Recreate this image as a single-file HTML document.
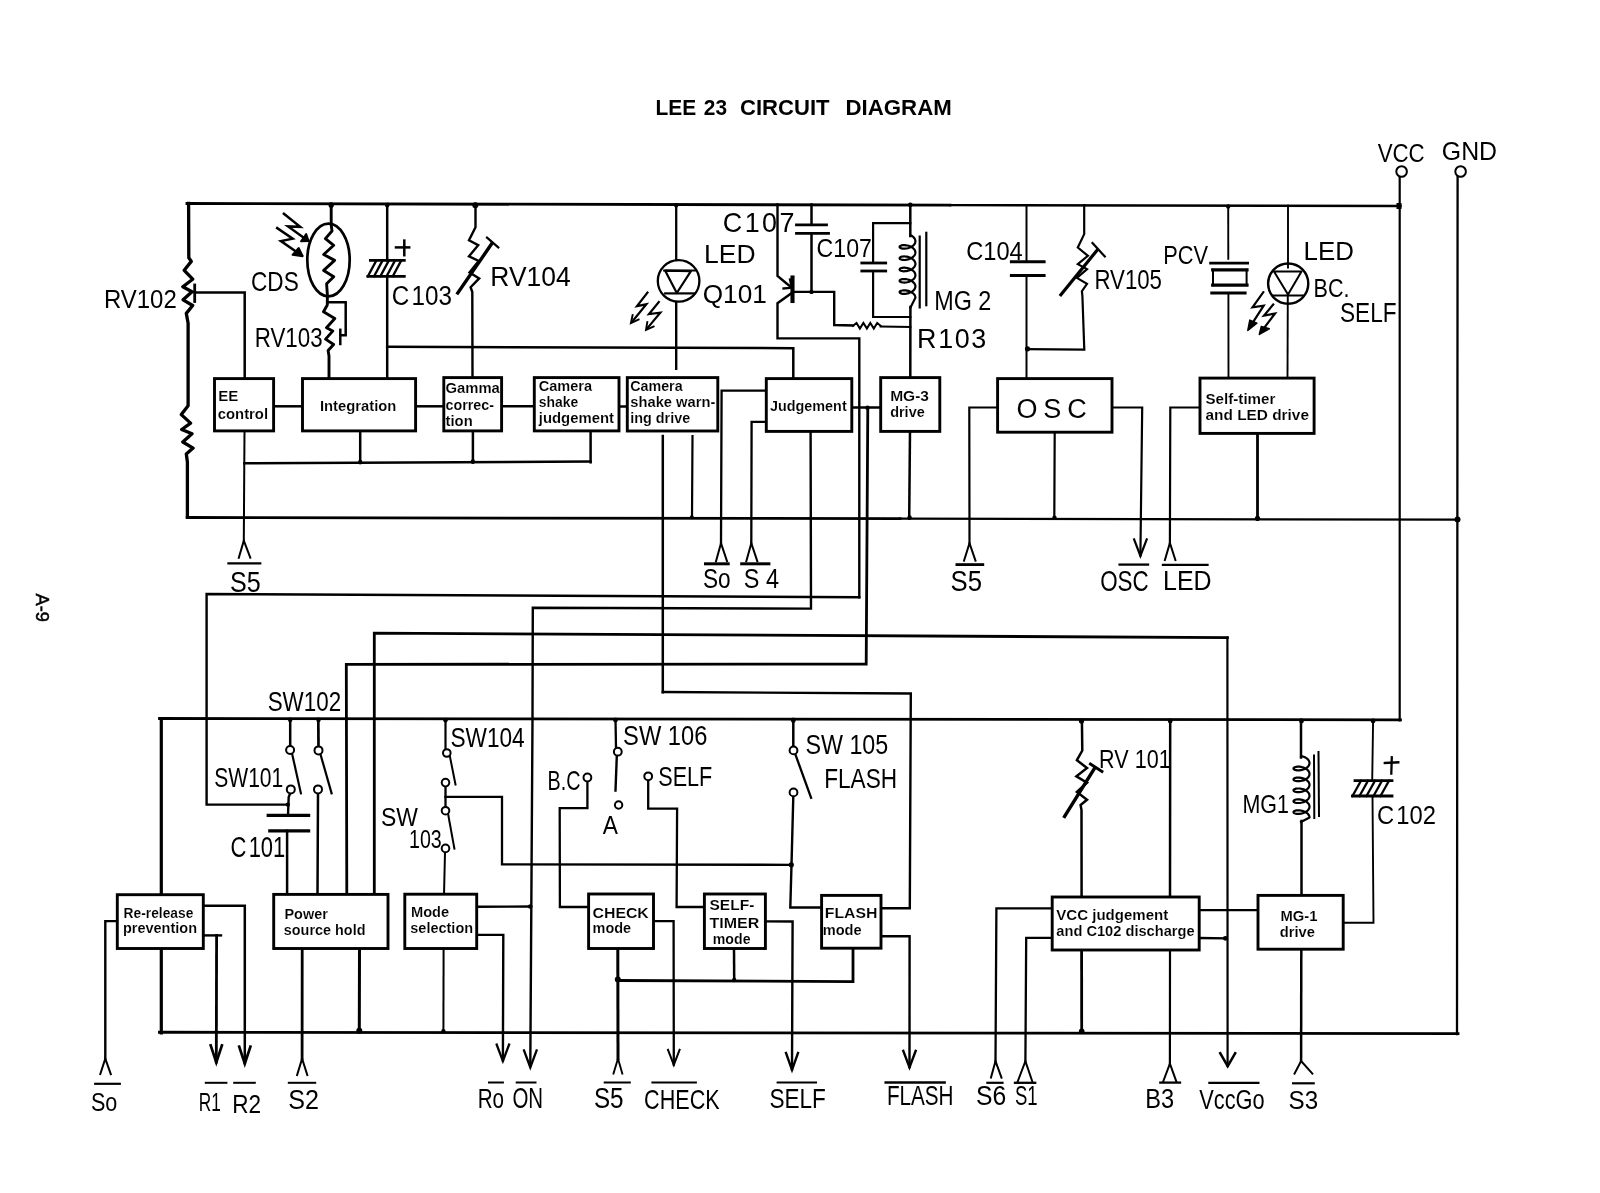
<!DOCTYPE html>
<html lang="en">
<head>
<meta charset="utf-8">
<title>LEE 23 CIRCUIT DIAGRAM</title>
<style>
html,body{margin:0;padding:0;background:#fff;}
body{width:1600px;height:1193px;overflow:hidden;}
svg{display:block;will-change:transform;}
.w{fill:none;stroke:#000;stroke-linecap:square;stroke-linejoin:miter;}
text{fill:#000;font-family:"Liberation Sans",sans-serif;}
.t{font-weight:bold;}
.b{font-weight:bold;stroke:#fff;stroke-width:.12px;}
.h{font-weight:normal;}
.p{font-weight:normal;stroke:#000;stroke-width:.5px;}
</style>
</head>
<body>
<svg width="1600" height="1193" viewBox="0 0 1600 1193">
<rect width="1600" height="1193" fill="#fff"/>
<text class="t" x="655.5" y="115" font-size="21.8" textLength="40.7" lengthAdjust="spacingAndGlyphs">LEE</text>
<text class="t" x="703.8" y="115" font-size="21.8" textLength="23.2" lengthAdjust="spacingAndGlyphs">23</text>
<text class="t" x="740" y="115" font-size="21.8" textLength="89.5" lengthAdjust="spacingAndGlyphs">CIRCUIT</text>
<text class="t" x="845.5" y="115" font-size="21.8" textLength="106.3" lengthAdjust="spacingAndGlyphs">DIAGRAM</text>
<text class="p" transform="translate(35.5 593.5) rotate(90)" font-size="18.5" textLength="28.5" lengthAdjust="spacingAndGlyphs">A-9</text>
<g class="w">
<path d="M187 203.5 L950 205.1" stroke-width="2.9"/>
<path d="M950 205.1 L1400.5 206" stroke-width="2.4"/>
<path d="M188.6 203.5 L188.8 257.8 L191.3 261.4 L184.2 270.3 L192.7 279.2 L182.8 286.7 L192 291.7 L183.1 299.8 L192.7 305.5 L186.3 313.4 L188.1 323.3 L188.1 405.7 L181.3 414.6 L190.6 423.1 L181.7 429.5 L192 433.8 L182.8 442 L193.1 448.1 L186.3 454.1 L187.4 462 L187.4 516.8" stroke-width="3.3" stroke-linejoin="round"/>
<path d="M187.2 517.5 L900 518.7" stroke-width="2.8"/>
<path d="M900 518.7 L1458 519.6" stroke-width="2.3"/>
<circle cx="1457.5" cy="519.6" r="3" fill="#000" stroke="none"/>
<path d="M1399.7 176.5 L1399.7 720.5" stroke-width="2.2"/>
<path d="M1457.6 176.5 L1457 1034.2" stroke-width="2.3"/>
<circle cx="1401.6" cy="171.5" r="5.3" fill="#fff" stroke-width="2"/>
<circle cx="1460.6" cy="171.5" r="5.3" fill="#fff" stroke-width="2"/>
<rect x="1396.5" y="203" width="5" height="6" fill="#000" stroke="none"/>
<path d="M194.7 285 L194.7 301.5" stroke-width="2.8"/>
<path d="M194.6 292.4 L244.7 292.4 L244.7 379" stroke-width="2.5"/>
<path d="M331.2 204 L331.2 225 L332 231 L325.4 238.6 L333.7 245.3 L323.7 254.5 L334.6 260.4 L323.7 270.4 L333.7 276.7 L326.6 283.8 L327.4 295 L327.3 305 L323.5 311.8 L334.8 318.5 L326.5 327.7 L332.7 331.1 L325.6 339.1 L333.6 344.5 L328.1 350.4 L329 356 L329 379" stroke-width="2.9" stroke-linejoin="round"/>
<ellipse cx="328.5" cy="260" rx="21.2" ry="36.4" fill="none" stroke-width="2.7"/>
<path d="M327.3 302.2 L345.7 302.2 L345.7 335.3 L341 335.3" stroke-width="2.5"/>
<path d="M340.3 329.8 L340.3 344" stroke-width="2.5"/>
<path d="M283.9 213.8 L300.2 226.8 L288.1 226.4 L308 240.7" stroke-width="2.5"/>
<path d="M301 241.3 L308.6 241.1 L306.2 234Z" stroke-width="1.9" fill="#000" stroke-linejoin="round"/>
<path d="M277.2 228.1 L292.7 238.6 L280.9 241.1 L301.8 255.5" stroke-width="2.5"/>
<path d="M292.5 254.8 L302.7 256.2 L298.7 248Z" stroke-width="1.9" fill="#000" stroke-linejoin="round"/>
<circle cx="331.2" cy="205.2" r="2.6" fill="#000" stroke="none"/>
<circle cx="387.2" cy="205.3" r="2.2" fill="#000" stroke="none"/>
<path d="M387.2 204 L387.2 260.4" stroke-width="2.5"/>
<path d="M370.4 260.4 L404.3 260.4" stroke-width="2.8"/>
<path d="M367.9 276.3 L404.3 276.3" stroke-width="2.8"/>
<path d="M376.4 260.4 L367.9 276.3" stroke-width="2.3"/>
<path d="M382.6 260.4 L374.1 276.3" stroke-width="2.3"/>
<path d="M388.9 260.4 L380.4 276.3" stroke-width="2.3"/>
<path d="M395.1 260.4 L386.6 276.3" stroke-width="2.3"/>
<path d="M401.3 260.4 L392.8 276.3" stroke-width="2.3"/>
<path d="M387.2 276.3 L387.2 379" stroke-width="2.5"/>
<path d="M387.2 346.7 L793.3 348.2 L793.3 379" stroke-width="2.5"/>
<path d="M396 247.4 L409.2 247.4" stroke-width="2.5"/>
<path d="M404.3 240.6 L404.3 255.2" stroke-width="2.5"/>
<circle cx="475.3" cy="205.3" r="3" fill="#000" stroke="none"/>
<path d="M475.5 204 L475.5 227.3 L469 240.2 L478.2 245.2 L469 256.3 L478.7 260.9 L469.5 272.4 L479.2 278.4 L470.6 287.2 L472.3 292 L472.5 378" stroke-width="2.4"/>
<path d="M457.8 293 L491.4 244.2" stroke-width="3.4"/>
<path d="M487 237.6 L498.3 247.4" stroke-width="2.2"/>
<circle cx="676.2" cy="205.2" r="2.2" fill="#000" stroke="none"/>
<path d="M676.2 204.5 L676.2 260" stroke-width="2.3"/>
<circle cx="678.6" cy="280.9" r="20.8" fill="none" stroke-width="2.3"/>
<path d="M665.2 270.7 L690.9 271.1 L676.8 293Z" stroke-width="2.2" fill="none" stroke-linejoin="round"/>
<path d="M664.2 270.5 L695.4 270.5" stroke-width="2.2"/>
<path d="M665.2 293.4 L694.3 293.4" stroke-width="2.2"/>
<path d="M676.2 302 L676.2 368.8" stroke-width="2.4"/>
<path d="M647.5 292.6 L637 306.2 L646.4 304.3 L632.4 321.4" stroke-width="2.2"/>
<path d="M632.6 315 L630.9 323.2 L638.6 319.6" stroke-width="1.9"/>
<path d="M658.8 302 L649 314.1 L660.3 312.6 L647.5 328" stroke-width="2.2"/>
<path d="M647.3 322 L646 329.9 L653.6 326.5" stroke-width="1.9"/>
<path d="M777.5 204.5 L777.5 276 L792.3 288.2" stroke-width="2.4"/>
<path d="M792.5 277.5 L792.5 301" stroke-width="4.1"/>
<path d="M792.5 292.5 L777.5 303.2 L777.5 338.2 L859.3 338.4 L859.3 597.2" stroke-width="2.4"/>
<path d="M783.5 288.5 L791.8 287.8 L790 279.5" stroke-width="2.3"/>
<path d="M792.5 291.9 L834.2 291.9 L834.2 325 L853 325.5" stroke-width="2.4"/>
<path d="M853 325.8 L856.5 323 L859.9 328.6 L863.4 323 L866.9 328.6 L870.3 323 L873.8 328.6 L877.2 323 L880.7 325.8" stroke-width="2"/>
<path d="M880.7 326.5 L910.3 327" stroke-width="2.2"/>
<circle cx="811.5" cy="291.9" r="2.2" fill="#000" stroke="none"/>
<path d="M811.5 204.5 L811.5 224.8" stroke-width="2.5"/>
<path d="M796.5 224.8 L826.5 224.8" stroke-width="2.8"/>
<path d="M796.5 233.3 L828.5 233.3" stroke-width="2.8"/>
<path d="M811.5 233.3 L811.5 291.9" stroke-width="2.5"/>
<circle cx="910.3" cy="204.8" r="2.4" fill="#000" stroke="none"/>
<path d="M910.3 204.5 L910.3 236" stroke-width="2.5"/>
<path d="M910.5 236 L910.5 235.2 L911.6 235.8 L912.7 236.5 L913.6 237.3 L914.3 238.2 L914.9 239.1 L915.2 240 L915.4 241 L915.3 242 L915.1 242.9 L914.6 243.9 L914 244.8 L913.1 245.6 L912.2 246.3 L911.1 247 L909.9 247.5 L908.6 248 L907.4 248.3 L906.1 248.5 L904.8 248.6 L903.7 248.7 L902.6 248.6 L901.7 248.4 L900.9 248.1 L900.3 247.8 L899.8 247.5 L899.6 247.1 L899.6 246.7 L899.8 246.3 L900.2 246 L900.8 245.7 L901.6 245.4 L902.5 245.2 L903.6 245.1 L904.8 245.1 L906 245.3 L907.3 245.5 L908.6 245.8 L909.8 246.3 L911 246.8 L912.1 247.4 L913.1 248.2 L913.9 249 L914.6 249.9 L915.1 250.8 L915.3 251.8 L915.4 252.7 L915.2 253.7 L914.9 254.7 L914.3 255.6 L913.6 256.4 L912.7 257.2 L911.7 257.9 L910.6 258.5 L909.3 259 L908.1 259.4 L906.8 259.7 L905.5 259.9 L904.3 260 L903.2 259.9 L902.2 259.8 L901.3 259.6 L900.6 259.3 L900 259 L899.7 258.6 L899.6 258.2 L899.7 257.8 L900 257.5 L900.5 257.1 L901.2 256.8 L902 256.6 L903 256.5 L904.1 256.4 L905.3 256.5 L906.6 256.6 L907.9 256.9 L909.1 257.3 L910.4 257.8 L911.5 258.4 L912.6 259.1 L913.5 259.8 L914.3 260.7 L914.8 261.6 L915.2 262.5 L915.4 263.5 L915.4 264.5 L915.1 265.5 L914.7 266.4 L914 267.3 L913.2 268.1 L912.3 268.9 L911.2 269.5 L910 270.1 L908.8 270.5 L907.5 270.9 L906.2 271.1 L905 271.2 L903.8 271.3 L902.7 271.2 L901.7 271 L900.9 270.8 L900.3 270.5 L899.9 270.1 L899.6 269.7 L899.6 269.4 L899.8 269 L900.2 268.6 L900.8 268.3 L901.5 268 L902.4 267.8 L903.5 267.7 L904.7 267.7 L905.9 267.8 L907.2 268.1 L908.4 268.4 L909.7 268.8 L910.9 269.3 L912 270 L913 270.7 L913.9 271.5 L914.5 272.4 L915 273.3 L915.3 274.3 L915.4 275.2 L915.3 276.2 L914.9 277.2 L914.4 278.1 L913.7 279 L912.8 279.7 L911.8 280.5 L910.7 281.1 L909.5 281.6 L908.2 282 L906.9 282.3 L905.6 282.5 L904.4 282.6 L903.3 282.5 L902.2 282.4 L901.4 282.2 L900.6 281.9 L900.1 281.6 L899.7 281.3 L899.6 280.9 L899.7 280.5 L899.9 280.1 L900.4 279.8 L901.1 279.5 L901.9 279.2 L902.9 279.1 L904 279 L905.2 279.1 L906.5 279.2 L907.7 279.5 L909 279.9 L910.3 280.3 L911.4 280.9 L912.5 281.6 L913.4 282.4 L914.2 283.2 L914.8 284.1 L915.2 285 L915.4 286 L915.4 287 L915.1 288 L914.7 288.9 L914.1 289.8 L913.3 290.6 L912.4 291.4 L911.3 292 L910.1 292.6 L908.9 293.1 L907.6 293.4 L906.3 293.7 L905.1 293.8 L903.9 293.9 L902.8 293.8 L901.8 293.6 L901 293.4 L900.4 293.1 L899.9 292.8 L899.7 292.4 L899.6 292 L899.8 291.6 L900.1 291.2 L900.7 290.9 L901.4 290.7 L902.3 290.5 L903.4 290.4 L904.5 290.3 L905.8 290.4 L907 290.6 L908.3 290.9 L909.6 291.4 L910.8 291.9 L911.9 292.5 L912.9 293.2 L913.8 294 L914.5 294.9 L915 295.8 L915.3 296.8 L915.4 297.8 L910.5 307.4" stroke-width="2.2" stroke-linejoin="round"/>
<path d="M910.4 307 L910.3 378" stroke-width="2.5"/>
<path d="M919.7 236.6 L919.7 307.4" stroke-width="2.2"/>
<path d="M926.3 232.8 L926.3 305.2" stroke-width="2.2"/>
<path d="M910.3 223.2 L873.1 223.2 L873.1 263" stroke-width="2.2"/>
<path d="M861.8 263 L885.7 263" stroke-width="2.8"/>
<path d="M861.8 271 L885.7 271" stroke-width="2.8"/>
<path d="M873.1 271 L873.1 317 L910.3 317" stroke-width="2.2"/>
<path d="M1026.5 205 L1026.5 261.7" stroke-width="2"/>
<path d="M1011.4 261.7 L1044.1 261.7" stroke-width="3"/>
<path d="M1011.4 275.5 L1044.1 275.5" stroke-width="3"/>
<path d="M1026.5 275.5 L1026.5 379" stroke-width="2"/>
<circle cx="1027.5" cy="348.8" r="2.6" fill="#000" stroke="none"/>
<path d="M1084.2 205 L1084.2 234.1 L1077.8 247.5 L1087.9 255.8 L1077.8 264.1 L1087 269.1 L1076.9 277.9 L1087 283.9 L1081.9 291.2 L1082.4 296 L1084.3 349.7 L1026.5 349.2" stroke-width="2.2"/>
<path d="M1060.9 294.7 L1096.9 250.4" stroke-width="3.2"/>
<path d="M1092.5 243.1 L1104.8 256.5" stroke-width="2.2"/>
<circle cx="1228.2" cy="206.6" r="2.2" fill="#000" stroke="none"/>
<path d="M1228.2 205.5 L1228.3 258.8" stroke-width="1.9"/>
<path d="M1210.6 263.1 L1247.6 263.1" stroke-width="2.8"/>
<path d="M1212.7 269.8 L1247 269.8" stroke-width="3.2"/>
<path d="M1212.7 285.2 L1247 285.2" stroke-width="3.2"/>
<path d="M1213 269.8 L1213 285.2" stroke-width="2"/>
<path d="M1246.6 269.8 L1246.6 285.2" stroke-width="2"/>
<path d="M1211.7 293 L1245.2 293" stroke-width="2.8"/>
<path d="M1228.4 294 L1228.5 378" stroke-width="1.9"/>
<path d="M1288 205.8 L1288 267.5" stroke-width="1.9"/>
<circle cx="1288.2" cy="283.6" r="20.1" fill="none" stroke-width="2.4"/>
<path d="M1274 271.5 L1301.5 271.6 L1288 294.6Z" stroke-width="2" fill="none" stroke-linejoin="round"/>
<path d="M1273.2 295.4 L1303.5 295.4" stroke-width="2"/>
<path d="M1287.8 295 L1287.5 378" stroke-width="1.9"/>
<path d="M1263.3 292.2 L1252.5 307.3 L1263.7 305.7 L1249.3 328" stroke-width="2.2"/>
<path d="M1249.8 320.1 L1247.8 330.4 L1256.9 323.2Z" stroke-width="1.5" fill="#000" stroke-linejoin="round"/>
<path d="M1273.2 304.5 L1264 315.5 L1275 313.5 L1260.8 332.4" stroke-width="2.2"/>
<path d="M1261.3 326.4 L1259.3 334.4 L1269.3 328.8Z" stroke-width="1.5" fill="#000" stroke-linejoin="round"/>
<path d="M273.6 406.3 L302.5 406.3" stroke-width="2.5"/>
<path d="M415.6 406.3 L443.8 406.3" stroke-width="2.5"/>
<path d="M501.6 406.3 L534.3 406.3" stroke-width="2.5"/>
<path d="M619 406.5 L627.3 406.5" stroke-width="2.5"/>
<path d="M851.8 407.5 L880.7 407.5" stroke-width="2.5"/>
<circle cx="867.5" cy="407.8" r="2.2" fill="#000" stroke="none"/>
<path d="M766.3 390.7 L721.6 390.7 L721 543.2" stroke-width="2.3"/>
<path d="M766.3 421.9 L751.6 421.9 L751.3 543.2" stroke-width="2.3"/>
<path d="M716 561.2 L721 543.2 L727 561.2" stroke-width="2"/>
<path d="M746.3 561.2 L751.3 543.2 L757.3 561.2" stroke-width="2"/>
<path d="M705.5 563.8 L728.2 563.8" stroke-width="3"/>
<path d="M741.7 563.8 L768.9 563.8" stroke-width="3"/>
<path d="M244.3 463.3 L590.6 461.6" stroke-width="2.5"/>
<path d="M360.2 431 L360.2 463" stroke-width="2.5"/>
<circle cx="360.2" cy="462" r="2.2" fill="#000" stroke="none"/>
<path d="M472.9 431 L472.9 462.5" stroke-width="2.5"/>
<circle cx="472.9" cy="461.5" r="2.2" fill="#000" stroke="none"/>
<path d="M590.6 431 L590.6 462.3" stroke-width="2.5"/>
<path d="M244.5 431 L243.8 540.7" stroke-width="2"/>
<path d="M238.8 557.7 L243.8 540.7 L250.3 557.7" stroke-width="2"/>
<path d="M228.5 563.3 L260.2 563.3" stroke-width="2.3"/>
<path d="M662.8 436 L662.8 692.2" stroke-width="2.5"/>
<path d="M692.5 436 L692 518" stroke-width="2.2"/>
<circle cx="691.8" cy="517.3" r="2" fill="#000" stroke="none"/>
<path d="M810.6 431.4 L811 608.6 L532.8 607.8 L532.5 720 L530.3 1066" stroke-width="2.4"/>
<path d="M910 431.4 L909.2 518.8" stroke-width="2.5"/>
<circle cx="909.6" cy="517.5" r="2.2" fill="#000" stroke="none"/>
<path d="M867.8 407.5 L866.2 664 L346.3 664.4 L346.8 895" stroke-width="2.8"/>
<path d="M997.6 407.5 L969.3 407.5 L969.5 543.2" stroke-width="2.2"/>
<path d="M964 560.7 L969.5 543.2 L975.5 560.7" stroke-width="2"/>
<path d="M956.9 564.6 L982.8 564.6" stroke-width="2.8"/>
<path d="M1054.7 432.2 L1054.3 519" stroke-width="2.2"/>
<circle cx="1054.5" cy="517.8" r="2.2" fill="#000" stroke="none"/>
<path d="M1112 407.5 L1142.2 407.5 L1140.4 555.5" stroke-width="2.2"/>
<path d="M1134.1 539.3 L1140.4 555.8 L1146.7 539.3" stroke-width="2.2"/>
<path d="M1200 407.5 L1170.3 407.5 L1169.9 543" stroke-width="2.2"/>
<path d="M1164.9 560 L1169.9 543 L1175.4 560" stroke-width="2"/>
<path d="M1257.5 433.4 L1257.5 519.6" stroke-width="2.8"/>
<circle cx="1257.5" cy="518.3" r="2.6" fill="#000" stroke="none"/>
<path d="M1119.6 564.6 L1148 564.6" stroke-width="2.3"/>
<path d="M1163 564.9 L1207.5 564.9" stroke-width="2.3"/>
<path d="M859.3 597.2 L206.6 594 L206.6 804.6 L287.6 804.6" stroke-width="2.4"/>
<path d="M374.3 895 L374.3 633.2 L1227.4 637.6" stroke-width="2.8"/>
<path d="M1227.4 637.6 L1227.6 1066" stroke-width="2.2"/>
<path d="M662.8 692 L910.8 693.5 L909.8 908.2 L881 908.2" stroke-width="2.4"/>
</g>
<g class="w">
<rect x="214.5" y="378.6" width="59.1" height="52.3" fill="#fff" stroke-width="2.9"/>
<rect x="302.5" y="378.6" width="113.1" height="52.3" fill="#fff" stroke-width="2.9"/>
<rect x="443.8" y="377.6" width="57.8" height="53.3" fill="#fff" stroke-width="2.9"/>
<rect x="534.3" y="377.6" width="84.7" height="53.3" fill="#fff" stroke-width="2.9"/>
<rect x="627.3" y="377.6" width="90.5" height="53.4" fill="#fff" stroke-width="2.9"/>
<rect x="766.3" y="378.6" width="85.5" height="52.8" fill="#fff" stroke-width="2.9"/>
<rect x="880.7" y="377.6" width="59.1" height="53.8" fill="#fff" stroke-width="2.9"/>
<rect x="997.6" y="378.6" width="114.4" height="53.6" fill="#fff" stroke-width="2.9"/>
<rect x="1200" y="378.1" width="114.1" height="55.3" fill="#fff" stroke-width="2.9"/>
</g>
<g class="w">
<path d="M159.5 718.5 L1400.5 719.8" stroke-width="2.8"/>
<path d="M161.3 718.5 L161.3 1033" stroke-width="3.2"/>
<path d="M159.5 1032.3 L1458 1033.6" stroke-width="2.9"/>
<circle cx="290.2" cy="720" r="2.2" fill="#000" stroke="none"/>
<circle cx="318.5" cy="720" r="2.2" fill="#000" stroke="none"/>
<path d="M290.2 719 L290.2 746" stroke-width="2.5"/>
<path d="M318.3 719 L318.5 746.5" stroke-width="2.7"/>
<path d="M292.2 754.2 L300.9 793.3" stroke-width="2.2"/>
<path d="M320.6 754.7 L331.6 793.3" stroke-width="2.2"/>
<path d="M290.2 793.4 L288.7 797 L288 815.4" stroke-width="2.4"/>
<circle cx="287.8" cy="804.6" r="2.2" fill="#000" stroke="none"/>
<path d="M268.2 815.4 L308.6 815.4" stroke-width="3.2"/>
<path d="M269.8 830.9 L308.6 830.9" stroke-width="3.2"/>
<path d="M287.1 830.8 L287.1 895" stroke-width="2.5"/>
<path d="M318 793.4 L317.5 895" stroke-width="2.5"/>
<circle cx="290.1" cy="750" r="4" fill="#fff" stroke-width="2"/>
<circle cx="290.8" cy="789.4" r="4" fill="#fff" stroke-width="2"/>
<circle cx="318.5" cy="750.4" r="4" fill="#fff" stroke-width="2"/>
<circle cx="318" cy="789.4" r="4" fill="#fff" stroke-width="2"/>
<circle cx="445.5" cy="720.2" r="2.2" fill="#000" stroke="none"/>
<path d="M445.5 719 L445.5 748.5" stroke-width="2.2"/>
<path d="M449.7 755.4 L455.5 784.5" stroke-width="2"/>
<path d="M445.5 786.5 L445.5 806.5" stroke-width="2.3"/>
<path d="M445.5 796.9 L502 796.9 L502 864.3 L791.5 864.8" stroke-width="2.3"/>
<path d="M448 813.5 L454.4 848.6" stroke-width="2"/>
<path d="M445 852.5 L444 895" stroke-width="2"/>
<circle cx="446.8" cy="753" r="3.8" fill="#fff" stroke-width="2"/>
<circle cx="445.5" cy="782.6" r="3.8" fill="#fff" stroke-width="2"/>
<circle cx="445.5" cy="810.7" r="3.8" fill="#fff" stroke-width="2"/>
<circle cx="445.5" cy="848.4" r="3.8" fill="#fff" stroke-width="2"/>
<circle cx="615.5" cy="720.3" r="2.2" fill="#000" stroke="none"/>
<path d="M615.5 719 L616 747.5" stroke-width="2.3"/>
<path d="M616.8 756 L615.5 790.6" stroke-width="2.4"/>
<circle cx="617.8" cy="751.7" r="3.9" fill="#fff" stroke-width="2"/>
<circle cx="618.6" cy="805" r="3.7" fill="#fff" stroke-width="2"/>
<path d="M587.4 781.5 L587.4 808.2 L559.7 808.2 L559.9 907 L588.6 907" stroke-width="2.3"/>
<circle cx="587.4" cy="777.5" r="3.9" fill="#fff" stroke-width="2"/>
<path d="M648.2 780.3 L648.2 808.7 L677.1 808.7 L676.6 907 L704.4 907" stroke-width="2.3"/>
<circle cx="648.2" cy="776.3" r="3.9" fill="#fff" stroke-width="2"/>
<circle cx="793.3" cy="720.5" r="2.4" fill="#000" stroke="none"/>
<path d="M793.3 719 L793.3 746.5" stroke-width="2.5"/>
<path d="M795.3 754.2 L811.1 797.7" stroke-width="2.3"/>
<path d="M793.3 796.4 L791.5 864.8 L790.3 907.5 L821.6 907.5" stroke-width="2.4"/>
<circle cx="791.3" cy="864.8" r="2.6" fill="#000" stroke="none"/>
<circle cx="793.5" cy="750.4" r="3.9" fill="#fff" stroke-width="2"/>
<circle cx="793.5" cy="792.4" r="3.9" fill="#fff" stroke-width="2"/>
<circle cx="1081.5" cy="721" r="2.6" fill="#000" stroke="none"/>
<path d="M1081.9 720 L1082.3 750.5 L1076.9 760.2 L1087 768 L1076.4 776.3 L1087 782.7 L1076.9 792 L1087 799.8 L1080.6 804.9 L1081.5 810 L1081.6 897" stroke-width="2.5"/>
<path d="M1081.6 950 L1081.7 1032" stroke-width="2.8"/>
<circle cx="1081.7" cy="1031.2" r="2.8" fill="#000" stroke="none"/>
<path d="M1064.6 816.5 L1094.2 768.8" stroke-width="3.4"/>
<path d="M1090.4 764 L1102 771.5" stroke-width="2.8"/>
<circle cx="1170.2" cy="721" r="2.4" fill="#000" stroke="none"/>
<path d="M1170.2 720 L1170 897" stroke-width="2.5"/>
<path d="M1170 950 L1169.9 1063.6" stroke-width="2.2"/>
<path d="M1163 1082 L1169.9 1063.6 L1176.5 1082" stroke-width="2"/>
<path d="M1160.3 1082.6 L1180 1082.6" stroke-width="2.3"/>
<circle cx="1301.5" cy="721" r="2.4" fill="#000" stroke="none"/>
<path d="M1301 720 L1301 757.5" stroke-width="2.5"/>
<path d="M1301 757 L1301 756 L1302.3 756.3 L1303.6 756.7 L1304.9 757.3 L1306 757.9 L1307 758.6 L1307.9 759.4 L1308.6 760.3 L1309.1 761.2 L1309.4 762.2 L1309.5 763.2 L1309.4 764.1 L1309 765.1 L1308.5 766 L1307.7 766.9 L1306.8 767.7 L1305.8 768.4 L1304.6 769 L1303.3 769.5 L1302 769.9 L1300.7 770.1 L1299.4 770.3 L1298.2 770.3 L1297 770.3 L1296 770.1 L1295.1 769.9 L1294.4 769.6 L1293.9 769.3 L1293.6 768.9 L1293.5 768.5 L1293.6 768.1 L1294 767.7 L1294.5 767.3 L1295.3 767 L1296.2 766.8 L1297.2 766.7 L1298.4 766.7 L1299.7 766.7 L1301 766.9 L1302.3 767.2 L1303.6 767.6 L1304.8 768.2 L1306 768.8 L1307 769.5 L1307.9 770.3 L1308.6 771.2 L1309.1 772.1 L1309.4 773.1 L1309.5 774 L1309.4 775 L1309 776 L1308.5 776.9 L1307.7 777.8 L1306.8 778.5 L1305.8 779.2 L1304.6 779.9 L1303.4 780.4 L1302 780.7 L1300.7 781 L1299.4 781.2 L1298.2 781.2 L1297 781.2 L1296 781 L1295.1 780.8 L1294.4 780.5 L1293.9 780.2 L1293.6 779.8 L1293.5 779.4 L1293.6 779 L1294 778.6 L1294.5 778.2 L1295.3 777.9 L1296.2 777.7 L1297.2 777.6 L1298.4 777.6 L1299.6 777.6 L1300.9 777.8 L1302.3 778.1 L1303.6 778.5 L1304.8 779 L1306 779.7 L1307 780.4 L1307.9 781.2 L1308.6 782.1 L1309.1 783 L1309.4 783.9 L1309.5 784.9 L1309.4 785.9 L1309 786.9 L1308.5 787.8 L1307.8 788.6 L1306.9 789.4 L1305.8 790.1 L1304.6 790.7 L1303.4 791.2 L1302.1 791.6 L1300.8 791.9 L1299.5 792.1 L1298.2 792.1 L1297.1 792.1 L1296 791.9 L1295.1 791.7 L1294.4 791.4 L1293.9 791.1 L1293.6 790.7 L1293.5 790.3 L1293.6 789.9 L1294 789.5 L1294.5 789.1 L1295.2 788.9 L1296.1 788.6 L1297.2 788.5 L1298.4 788.5 L1299.6 788.5 L1300.9 788.7 L1302.2 789 L1303.5 789.4 L1304.8 789.9 L1305.9 790.5 L1307 791.3 L1307.9 792.1 L1308.6 792.9 L1309.1 793.9 L1309.4 794.8 L1309.5 795.8 L1309.4 796.8 L1309 797.7 L1308.5 798.6 L1307.8 799.5 L1306.9 800.3 L1305.8 801 L1304.7 801.6 L1303.4 802.1 L1302.1 802.5 L1300.8 802.8 L1299.5 803 L1298.2 803 L1297.1 803 L1296 802.8 L1295.2 802.6 L1294.4 802.3 L1293.9 802 L1293.6 801.6 L1293.5 801.2 L1293.6 800.8 L1293.9 800.4 L1294.5 800.1 L1295.2 799.8 L1296.1 799.5 L1297.2 799.4 L1298.3 799.4 L1299.6 799.4 L1300.9 799.6 L1302.2 799.9 L1303.5 800.3 L1304.7 800.8 L1305.9 801.4 L1306.9 802.1 L1307.8 802.9 L1308.6 803.8 L1309.1 804.7 L1309.4 805.7 L1309.5 806.7 L1309.4 807.7 L1309.1 808.6 L1308.5 809.5 L1307.8 810.4 L1306.9 811.2 L1305.9 811.9 L1304.7 812.5 L1303.4 813 L1302.1 813.4 L1300.8 813.7 L1299.5 813.9 L1298.3 813.9 L1297.1 813.9 L1296.1 813.8 L1295.2 813.5 L1294.5 813.2 L1293.9 812.9 L1293.6 812.5 L1293.5 812.1 L1293.6 811.7 L1293.9 811.3 L1294.5 811 L1295.2 810.7 L1296.1 810.4 L1297.1 810.3 L1298.3 810.3 L1299.5 810.3 L1300.8 810.5 L1302.2 810.8 L1303.5 811.2 L1304.7 811.7 L1305.9 812.3 L1306.9 813 L1307.8 813.8 L1308.5 814.7 L1309.1 815.6 L1309.4 816.6 L1309.5 817.5 L1301 822" stroke-width="2.2" stroke-linejoin="round"/>
<path d="M1301.5 821 L1301.5 896" stroke-width="2.5"/>
<path d="M1314 755.5 L1314.3 818" stroke-width="2"/>
<path d="M1318.5 752 L1319 816" stroke-width="2"/>
<circle cx="1373.1" cy="721" r="2.4" fill="#000" stroke="none"/>
<path d="M1373.1 720 L1372.2 781.1" stroke-width="1.9"/>
<path d="M1355 780.7 L1392 780.7" stroke-width="2.8"/>
<path d="M1352.5 796 L1392 796" stroke-width="2.8"/>
<path d="M1361 780.7 L1352.5 796" stroke-width="2.3"/>
<path d="M1368 780.7 L1359.5 796" stroke-width="2.3"/>
<path d="M1375 780.7 L1366.5 796" stroke-width="2.3"/>
<path d="M1382 780.7 L1373.5 796" stroke-width="2.3"/>
<path d="M1389 780.7 L1380.5 796" stroke-width="2.3"/>
<path d="M1372.5 796.2 L1373.5 922.8 L1343.2 922.8" stroke-width="1.9"/>
<path d="M1384.8 763 L1398.3 762.3" stroke-width="2.3"/>
<path d="M1391.8 757.3 L1391.3 773.6" stroke-width="2.3"/>
<path d="M117.3 921.1 L105.3 921.1 L105.3 1058.6" stroke-width="2.4"/>
<path d="M100.3 1074.1 L105.3 1058.6 L110.8 1074.1" stroke-width="2"/>
<path d="M95.2 1083.8 L119.8 1083.8" stroke-width="2.2"/>
<path d="M203.3 905.8 L244.8 905.8 L244.8 1063" stroke-width="2.5"/>
<path d="M239.2 1046.6 L244.8 1063.6 L250.4 1046.6" stroke-width="2.7"/>
<path d="M203.3 935.4 L221 935.4" stroke-width="2.4"/>
<path d="M216.6 935.4 L216.3 1062" stroke-width="2.8"/>
<path d="M210.7 1045.4 L216.3 1062.4 L221.9 1045.4" stroke-width="2.7"/>
<path d="M205.8 1082.8 L226.4 1082.8" stroke-width="2"/>
<path d="M234.2 1082.8 L254.8 1082.8" stroke-width="2"/>
<path d="M302.2 948.5 L302.1 1058.6" stroke-width="2.8"/>
<path d="M297.1 1075.1 L302.1 1058.6 L307.3 1075.1" stroke-width="2"/>
<path d="M288.8 1082.8 L315.2 1082.8" stroke-width="2"/>
<path d="M359.5 948.5 L359.3 1032" stroke-width="3"/>
<circle cx="359.3" cy="1030.8" r="3" fill="#000" stroke="none"/>
<path d="M443.6 948.5 L443.4 1032" stroke-width="2"/>
<circle cx="443.4" cy="1031.2" r="2.2" fill="#000" stroke="none"/>
<path d="M476.7 906.8 L530.8 906.5" stroke-width="2.4"/>
<circle cx="530.3" cy="906.6" r="2.3" fill="#000" stroke="none"/>
<path d="M524 1050.4 L530.3 1067.4 L536.6 1050.4" stroke-width="2.3"/>
<path d="M476.7 934.9 L503.3 934.9 L502.9 1060.5" stroke-width="2.4"/>
<path d="M496.7 1044.6 L502.9 1061.1 L509.1 1044.6" stroke-width="2.3"/>
<path d="M489 1082.5 L502.9 1082.5" stroke-width="2"/>
<path d="M516.7 1082.5 L535.5 1082.5" stroke-width="2"/>
<path d="M653.5 921.2 L673.6 921.2 L673.8 1064.5" stroke-width="2.3"/>
<path d="M668 1049.9 L673.8 1064.9 L679.6 1049.9" stroke-width="2"/>
<path d="M617.8 948.5 L618 1058.6" stroke-width="3"/>
<path d="M613.5 1073.5 L618 1058.6 L622.3 1073.5" stroke-width="1.9"/>
<path d="M604.7 1082.5 L629.8 1082.5" stroke-width="2"/>
<path d="M652.4 1082.5 L695.9 1082.5" stroke-width="2"/>
<circle cx="617.8" cy="979.6" r="3" fill="#000" stroke="none"/>
<path d="M617.8 980.5 L853 981.6 L853 948.2" stroke-width="2.8"/>
<path d="M734 948.5 L734.2 980.8" stroke-width="2.5"/>
<circle cx="734.2" cy="980" r="2.2" fill="#000" stroke="none"/>
<path d="M765.4 921.4 L792.6 921.5 L792 1069.5" stroke-width="2.4"/>
<path d="M786 1053 L792 1070 L798 1053" stroke-width="2.4"/>
<path d="M777.7 1082.5 L815.9 1082.5" stroke-width="2.2"/>
<path d="M881 936.3 L909.6 936.3 L909.5 1067" stroke-width="2.4"/>
<path d="M903.3 1050.9 L909.5 1067.4 L915.7 1050.9" stroke-width="2.4"/>
<path d="M885.6 1082.5 L944.7 1082.5" stroke-width="2.3"/>
<path d="M1052.2 908.3 L996.4 908.3 L995.5 1061.1" stroke-width="2.3"/>
<path d="M991 1077.6 L995.5 1061.1 L1001.5 1077.6" stroke-width="2"/>
<path d="M987.4 1082.8 L1002.5 1082.8" stroke-width="2.2"/>
<path d="M1052.2 937.9 L1026.2 937.9 L1025.4 1061.1" stroke-width="2.3"/>
<path d="M1017.5 1082 L1025.4 1061.1 L1032.5 1082" stroke-width="2"/>
<path d="M1015 1082.8 L1035.2 1082.8" stroke-width="2.3"/>
<path d="M1199.2 910.2 L1258 910.2" stroke-width="2.3"/>
<path d="M1199.2 938 L1226.5 938.4" stroke-width="2.3"/>
<circle cx="1225.3" cy="938.3" r="2.4" fill="#000" stroke="none"/>
<path d="M1220.2 1053.2 L1227.7 1066.2 L1235.2 1053.2" stroke-width="2.5"/>
<path d="M1209.4 1082.8 L1258.4 1082.8" stroke-width="2.2"/>
<path d="M1301.3 949.2 L1301.1 1061.1" stroke-width="2.5"/>
<path d="M1294.5 1073.7 L1301.1 1061.1 L1312.4 1073.7" stroke-width="2"/>
<path d="M1293.1 1083.3 L1313.7 1083.3" stroke-width="2.2"/>
</g>
<g class="w">
<rect x="117.3" y="894.7" width="86" height="53.8" fill="#fff" stroke-width="2.9"/>
<rect x="273.7" y="894.4" width="114.3" height="54.1" fill="#fff" stroke-width="2.9"/>
<rect x="404.8" y="894.2" width="71.9" height="54.3" fill="#fff" stroke-width="2.9"/>
<rect x="588.6" y="894" width="64.9" height="54.5" fill="#fff" stroke-width="2.9"/>
<rect x="704.4" y="894" width="61" height="54.5" fill="#fff" stroke-width="2.9"/>
<rect x="821.6" y="895.4" width="59.4" height="52.8" fill="#fff" stroke-width="2.9"/>
<rect x="1052.2" y="897" width="147" height="53" fill="#fff" stroke-width="2.9"/>
<rect x="1258" y="895.4" width="85.2" height="53.8" fill="#fff" stroke-width="2.9"/>
</g>
<text class="b" x="218.3" y="401.2" font-size="14.2" textLength="20.1" lengthAdjust="spacingAndGlyphs">EE</text>
<text class="b" x="217.8" y="418.8" font-size="14.2" textLength="50.2" lengthAdjust="spacingAndGlyphs">control</text>
<text class="b" x="320" y="410.8" font-size="14.2" textLength="76.3" lengthAdjust="spacingAndGlyphs">Integration</text>
<text class="b" x="445.5" y="393.2" font-size="14.2" textLength="54.3" lengthAdjust="spacingAndGlyphs">Gamma</text>
<text class="b" x="445.5" y="410" font-size="14.2" textLength="48.5" lengthAdjust="spacingAndGlyphs">correc-</text>
<text class="b" x="445.5" y="425.9" font-size="14.2" textLength="27.2" lengthAdjust="spacingAndGlyphs">tion</text>
<text class="b" x="538.8" y="390.7" font-size="14.2" textLength="53.3" lengthAdjust="spacingAndGlyphs">Camera</text>
<text class="b" x="538.8" y="406.8" font-size="14.2" textLength="39.5" lengthAdjust="spacingAndGlyphs">shake</text>
<text class="b" x="538.8" y="422.6" font-size="14.2" textLength="75.2" lengthAdjust="spacingAndGlyphs">judgement</text>
<text class="b" x="630.3" y="390.7" font-size="14.2" textLength="52.3" lengthAdjust="spacingAndGlyphs">Camera</text>
<text class="b" x="630.3" y="406.8" font-size="14.2" textLength="85" lengthAdjust="spacingAndGlyphs">shake warn-</text>
<text class="b" x="630.3" y="422.6" font-size="14.2" textLength="59.9" lengthAdjust="spacingAndGlyphs">ing drive</text>
<text class="b" x="770" y="410.8" font-size="14.2" textLength="76.7" lengthAdjust="spacingAndGlyphs">Judgement</text>
<text class="b" x="890.2" y="401.2" font-size="14.2" textLength="38.8" lengthAdjust="spacingAndGlyphs">MG-3</text>
<text class="b" x="890.2" y="416.8" font-size="14.2" textLength="34.5" lengthAdjust="spacingAndGlyphs">drive</text>
<text class="b" x="1205.5" y="404" font-size="14.2" textLength="69.9" lengthAdjust="spacingAndGlyphs">Self-timer</text>
<text class="b" x="1205.5" y="419.8" font-size="14.2" textLength="103.5" lengthAdjust="spacingAndGlyphs">and LED drive</text>
<text class="b" x="123.6" y="917.8" font-size="14.2" textLength="69.7" lengthAdjust="spacingAndGlyphs">Re-release</text>
<text class="b" x="122.9" y="933.4" font-size="14.2" textLength="74.1" lengthAdjust="spacingAndGlyphs">prevention</text>
<text class="b" x="284.5" y="919" font-size="14.2" textLength="43.3" lengthAdjust="spacingAndGlyphs">Power</text>
<text class="b" x="283.8" y="934.7" font-size="14.2" textLength="81.7" lengthAdjust="spacingAndGlyphs">source hold</text>
<text class="b" x="411" y="916.8" font-size="14.2" textLength="38.2" lengthAdjust="spacingAndGlyphs">Mode</text>
<text class="b" x="410.3" y="932.7" font-size="14.2" textLength="62.8" lengthAdjust="spacingAndGlyphs">selection</text>
<text class="b" x="592.6" y="917.8" font-size="14.2" textLength="56.1" lengthAdjust="spacingAndGlyphs">CHECK</text>
<text class="b" x="592.6" y="933.4" font-size="14.2" textLength="38.5" lengthAdjust="spacingAndGlyphs">mode</text>
<text class="b" x="709.5" y="910.3" font-size="14.2" textLength="44.8" lengthAdjust="spacingAndGlyphs">SELF-</text>
<text class="b" x="709.5" y="927.9" font-size="14.2" textLength="49.8" lengthAdjust="spacingAndGlyphs">TIMER</text>
<text class="b" x="712.8" y="943.7" font-size="14.2" textLength="37.7" lengthAdjust="spacingAndGlyphs">mode</text>
<text class="b" x="824.8" y="918.3" font-size="14.2" textLength="52.7" lengthAdjust="spacingAndGlyphs">FLASH</text>
<text class="b" x="822.7" y="934.7" font-size="14.2" textLength="39" lengthAdjust="spacingAndGlyphs">mode</text>
<text class="b" x="1056.3" y="920.1" font-size="14.2" textLength="111.9" lengthAdjust="spacingAndGlyphs">VCC judgement</text>
<text class="b" x="1056.3" y="936.4" font-size="14.2" textLength="138.3" lengthAdjust="spacingAndGlyphs">and C102 discharge</text>
<text class="b" x="1280.5" y="921.1" font-size="14.2" textLength="37" lengthAdjust="spacingAndGlyphs">MG-1</text>
<text class="b" x="1279.8" y="936.7" font-size="14.2" textLength="35.2" lengthAdjust="spacingAndGlyphs">drive</text>
<text class="h" x="103.9" y="308.4" font-size="25.4" textLength="72.9" lengthAdjust="spacingAndGlyphs">RV102</text>
<text class="h" x="251" y="290.6" font-size="26.9" textLength="47.7" lengthAdjust="spacingAndGlyphs">CDS</text>
<text class="h" x="254.7" y="347" font-size="27.1" textLength="67.9" lengthAdjust="spacingAndGlyphs">RV103</text>
<text class="h" x="391.8" y="304.5" font-size="27" textLength="60.2" lengthAdjust="spacingAndGlyphs">C<tspan dx="2.5">103</tspan></text>
<text class="h" x="490.3" y="285.6" font-size="27" textLength="80.4" lengthAdjust="spacingAndGlyphs">RV104</text>
<text class="h" x="704" y="262.5" font-size="26.4" textLength="51.5" lengthAdjust="spacingAndGlyphs">LED</text>
<text class="h" x="702.7" y="302.6" font-size="26.1" textLength="64.1" lengthAdjust="spacingAndGlyphs">Q101</text>
<text class="h" x="722.8" y="231.5" font-size="26.9" textLength="71.7" lengthAdjust="spacing">C107</text>
<text class="h" x="816.6" y="257.4" font-size="26.3" textLength="55.3" lengthAdjust="spacingAndGlyphs">C107</text>
<text class="h" x="934.2" y="309.5" font-size="27" textLength="57.1" lengthAdjust="spacingAndGlyphs">MG 2</text>
<text class="h" x="917.1" y="348.4" font-size="26.9" textLength="69.2" lengthAdjust="spacing">R103</text>
<text class="h" x="966.2" y="260" font-size="26.3" textLength="56.5" lengthAdjust="spacingAndGlyphs">C104</text>
<text class="h" x="1094.4" y="289.4" font-size="27" textLength="67.6" lengthAdjust="spacingAndGlyphs">RV105</text>
<text class="h" x="1163.2" y="263.8" font-size="26.6" textLength="44.8" lengthAdjust="spacingAndGlyphs">PCV</text>
<text class="h" x="1303.5" y="260.3" font-size="26.3" textLength="50.3" lengthAdjust="spacingAndGlyphs">LED</text>
<text class="h" x="1313.6" y="296.5" font-size="25.9" textLength="35.9" lengthAdjust="spacingAndGlyphs">BC.</text>
<text class="h" x="1340" y="322.4" font-size="27" textLength="56.6" lengthAdjust="spacingAndGlyphs">SELF</text>
<text class="h" x="1377.7" y="162.2" font-size="26.1" textLength="47" lengthAdjust="spacingAndGlyphs">VCC</text>
<text class="h" x="1441.8" y="160.2" font-size="25.9" textLength="55.3" lengthAdjust="spacingAndGlyphs">GND</text>
<text class="h" x="1016.4" y="417.6" font-size="27" textLength="70.4" lengthAdjust="spacing">OSC</text>
<text class="h" x="230" y="592.2" font-size="28.7" textLength="30.7" lengthAdjust="spacingAndGlyphs">S5</text>
<text class="h" x="703" y="588.4" font-size="26.9" textLength="27.7" lengthAdjust="spacingAndGlyphs">So</text>
<text class="h" x="743.8" y="588.4" font-size="26.9" textLength="35.2" lengthAdjust="spacingAndGlyphs">S 4</text>
<text class="h" x="950.6" y="591" font-size="28.9" textLength="31.4" lengthAdjust="spacingAndGlyphs">S5</text>
<text class="h" x="1100.2" y="590.5" font-size="28.9" textLength="48.5" lengthAdjust="spacingAndGlyphs">OSC</text>
<text class="h" x="1163" y="590" font-size="26.9" textLength="48.6" lengthAdjust="spacingAndGlyphs">LED</text>
<text class="h" x="267.7" y="711.4" font-size="26.9" textLength="73.4" lengthAdjust="spacingAndGlyphs">SW102</text>
<text class="h" x="214.2" y="786.9" font-size="27" textLength="69.1" lengthAdjust="spacingAndGlyphs">SW101</text>
<text class="h" x="230.5" y="857.2" font-size="28.7" textLength="54.8" lengthAdjust="spacingAndGlyphs">C<tspan dx="3">101</tspan></text>
<text class="h" x="450.5" y="746.6" font-size="26.9" textLength="74.2" lengthAdjust="spacingAndGlyphs">SW104</text>
<text class="h" x="380.9" y="826.3" font-size="25.9" textLength="36.9" lengthAdjust="spacingAndGlyphs">SW</text>
<text class="h" x="409" y="848.4" font-size="25.9" textLength="32.7" lengthAdjust="spacingAndGlyphs">103</text>
<text class="h" x="623.1" y="745.4" font-size="27" textLength="84.2" lengthAdjust="spacingAndGlyphs">SW 106</text>
<text class="h" x="547.6" y="789.6" font-size="27.6" textLength="32.9" lengthAdjust="spacingAndGlyphs">B.C</text>
<text class="h" x="658.3" y="785.6" font-size="27" textLength="54" lengthAdjust="spacingAndGlyphs">SELF</text>
<text class="h" x="602.8" y="834" font-size="25.7" textLength="15.2" lengthAdjust="spacingAndGlyphs">A</text>
<text class="h" x="805.4" y="754.2" font-size="27.7" textLength="82.9" lengthAdjust="spacingAndGlyphs">SW 105</text>
<text class="h" x="824.2" y="788.1" font-size="26.9" textLength="72.9" lengthAdjust="spacingAndGlyphs">FLASH</text>
<text class="h" x="1099.1" y="767.5" font-size="26.3" textLength="71.6" lengthAdjust="spacingAndGlyphs">RV 101</text>
<text class="h" x="1242.4" y="813.3" font-size="25.1" textLength="46.5" lengthAdjust="spacingAndGlyphs">MG1</text>
<text class="h" x="1376.9" y="823.8" font-size="25.9" textLength="59.1" lengthAdjust="spacingAndGlyphs">C<tspan dx="2.5">102</tspan></text>
<text class="h" x="90.9" y="1110.7" font-size="25.9" textLength="26.4" lengthAdjust="spacingAndGlyphs">So</text>
<text class="h" x="198.8" y="1111.4" font-size="25.1" textLength="22.1" lengthAdjust="spacingAndGlyphs">R1</text>
<text class="h" x="232.2" y="1112.7" font-size="26.3" textLength="28.9" lengthAdjust="spacingAndGlyphs">R2</text>
<text class="h" x="288.3" y="1108.9" font-size="27" textLength="30.7" lengthAdjust="spacingAndGlyphs">S2</text>
<text class="h" x="477.7" y="1107.6" font-size="27.3" textLength="26.4" lengthAdjust="spacingAndGlyphs">Ro</text>
<text class="h" x="512.4" y="1108" font-size="29.3" textLength="30.7" lengthAdjust="spacingAndGlyphs">ON</text>
<text class="h" x="593.9" y="1108.4" font-size="29.9" textLength="29.6" lengthAdjust="spacingAndGlyphs">S5</text>
<text class="h" x="644.1" y="1108.9" font-size="28" textLength="75.5" lengthAdjust="spacingAndGlyphs">CHECK</text>
<text class="h" x="769.4" y="1107.6" font-size="27.6" textLength="56.5" lengthAdjust="spacingAndGlyphs">SELF</text>
<text class="h" x="886.9" y="1105.1" font-size="26.9" textLength="66.6" lengthAdjust="spacingAndGlyphs">FLASH</text>
<text class="h" x="976.1" y="1105.1" font-size="26.9" textLength="30.2" lengthAdjust="spacingAndGlyphs">S6</text>
<text class="h" x="1015" y="1105.1" font-size="26.9" textLength="22.7" lengthAdjust="spacingAndGlyphs">S1</text>
<text class="h" x="1145.3" y="1107.6" font-size="26.9" textLength="28.9" lengthAdjust="spacingAndGlyphs">B3</text>
<text class="h" x="1199.3" y="1108.9" font-size="27" textLength="65.4" lengthAdjust="spacingAndGlyphs">VccGo</text>
<text class="h" x="1288.6" y="1109.4" font-size="26.6" textLength="29.6" lengthAdjust="spacingAndGlyphs">S3</text>
</svg>
</body>
</html>
